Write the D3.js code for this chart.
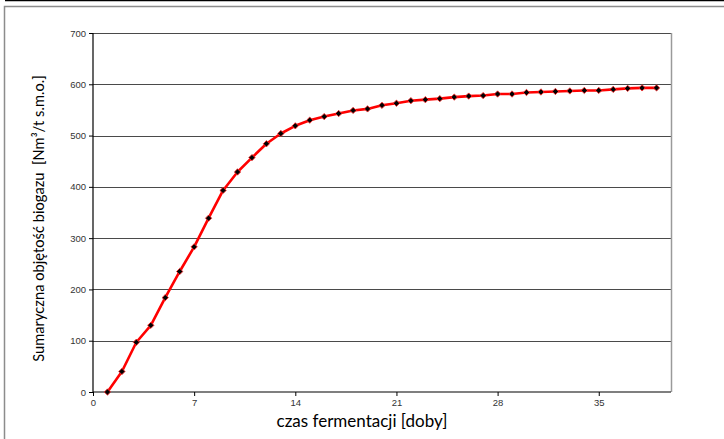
<!DOCTYPE html>
<html>
<head>
<meta charset="utf-8">
<script src="https://cdn.jsdelivr.net/npm/d3@7"></script>
<style>
  body { margin: 0; background: #fff; }
  svg { display: block; }
</style>
</head>
<body>
<div id="chart-area"></div>
<script>
// Data
var days = [1, 2, 3, 4, 5, 6, 7, 8, 9, 10, 11, 12, 13, 14, 15, 16, 17, 18, 19, 20,
    21, 22, 23, 24, 25, 26, 27, 28, 29, 30, 31, 32, 33, 34, 35, 36, 37, 38, 39];
var biogas = [0, 40, 97, 130, 184, 235, 283, 339, 393, 429, 457, 484, 504, 519, 530, 537, 543, 549, 552, 559,
    563, 568, 570, 572, 575, 577, 578, 581, 581, 584, 585, 586, 587, 588, 588, 590, 592, 593, 593];
var xTicks = [0, 7, 14, 21, 28, 35];
var yTicks = [0, 100, 200, 300, 400, 500, 600, 700];

var width = 724, height = 439;
var margin = { top: 33, right: 53, bottom: 47, left: 93 };
var w = width - margin.left - margin.right;
var h = height - margin.top - margin.bottom;

var svg = d3.select("#chart-area")
    .append("svg")
    .attr("width", width)
    .attr("height", height);

// outer frame
svg.append("line")
    .attr("x1", 5).attr("x2", width).attr("y1", 0.5).attr("y2", 0.5)
    .attr("stroke", "#000").attr("stroke-width", 1.5);
svg.append("path")
    .attr("d", "M" + width + ",6.5H4.5V" + height)
    .attr("fill", "none").attr("stroke", "#8c8c8c").attr("stroke-width", 1.5);

var g = svg.append("g")
    .attr("transform", "translate(" + margin.left + "," + margin.top + ")");

// SCALES
var x = d3.scaleLinear().domain([0, 40]).range([0, w]);
var y = d3.scaleLinear().domain([0, 700]).range([h, 0]);

// gridlines
g.selectAll(".grid")
    .data(yTicks.filter(function (d) { return d > 0; }))
    .enter().append("line")
    .attr("class", "grid")
    .attr("x1", 0).attr("x2", w)
    .attr("y1", function (d) { return Math.round(y(d)) + 0.5; })
    .attr("y2", function (d) { return Math.round(y(d)) + 0.5; })
    .attr("stroke", "#4a4a4a");

// right border
g.append("line")
    .attr("x1", w + 0.5).attr("x2", w + 0.5)
    .attr("y1", 0).attr("y2", h)
    .attr("stroke", "#9a9a9a").attr("stroke-width", 1.5);

// AXES
var leftAxis = d3.axisLeft(y).tickValues(yTicks).tickSize(4).tickPadding(3);
var bottomAxis = d3.axisBottom(x).tickValues(xTicks).tickSize(4).tickPadding(3);

var ya = g.append("g").attr("class", "left axis").call(leftAxis);
var xa = g.append("g").attr("class", "bottom axis")
    .attr("transform", "translate(0," + h + ")")
    .call(bottomAxis);

[ya, xa].forEach(function (a) {
    a.select(".domain").attr("stroke", "#000").attr("stroke-width", 1.2);
    a.selectAll(".tick line").attr("stroke", "#000");
    a.selectAll(".tick text")
        .attr("font-family", "Liberation Sans, Arial, sans-serif")
        .attr("font-size", "9.5px")
        .attr("fill", "#333");
});
xa.select(".domain").attr("d", "M0,0H" + w);
ya.select(".domain").attr("d", "M0,0V" + h);

// labels
g.append("text")
    .attr("x", w / 2 - 20)
    .attr("y", h + 35)
    .attr("text-anchor", "middle")
    .attr("font-family", "Lato, 'Open Sans', sans-serif")
    .attr("font-size", "17px")
    .attr("fill", "#000")
    .text("czas fermentacji [doby]");

g.append("text")
    .attr("transform", "rotate(-90)")
    .attr("x", -(218.5 - margin.top))
    .attr("y", -49)
    .attr("text-anchor", "middle")
    .attr("font-family", "Lato, 'Open Sans', sans-serif")
    .attr("font-size", "14.7px")
    .attr("fill", "#000")
    .style("white-space", "pre")
    .text("Sumaryczna objętość biogazu  [Nm³/t s.m.o.]");

// line
var line = d3.line()
    .x(function (d, i) { return x(days[i]); })
    .y(function (d) { return y(d); });

g.append("path")
    .datum(biogas)
    .attr("d", line)
    .attr("fill", "none")
    .attr("stroke", "#ff0000")
    .attr("stroke-width", 2.6)
    .attr("stroke-linejoin", "round");

// markers
g.selectAll(".pt")
    .data(biogas)
    .enter().append("path")
    .attr("class", "pt")
    .attr("d", d3.symbol().type(d3.symbolSquare).size(20))
    .attr("transform", function (d, i) { return "translate(" + x(days[i]) + "," + y(d) + ") rotate(45)"; })
    .attr("fill", "#000")
    .attr("stroke", "#ff3030")
    .attr("stroke-width", 0.8);
</script>
</body>
</html>
